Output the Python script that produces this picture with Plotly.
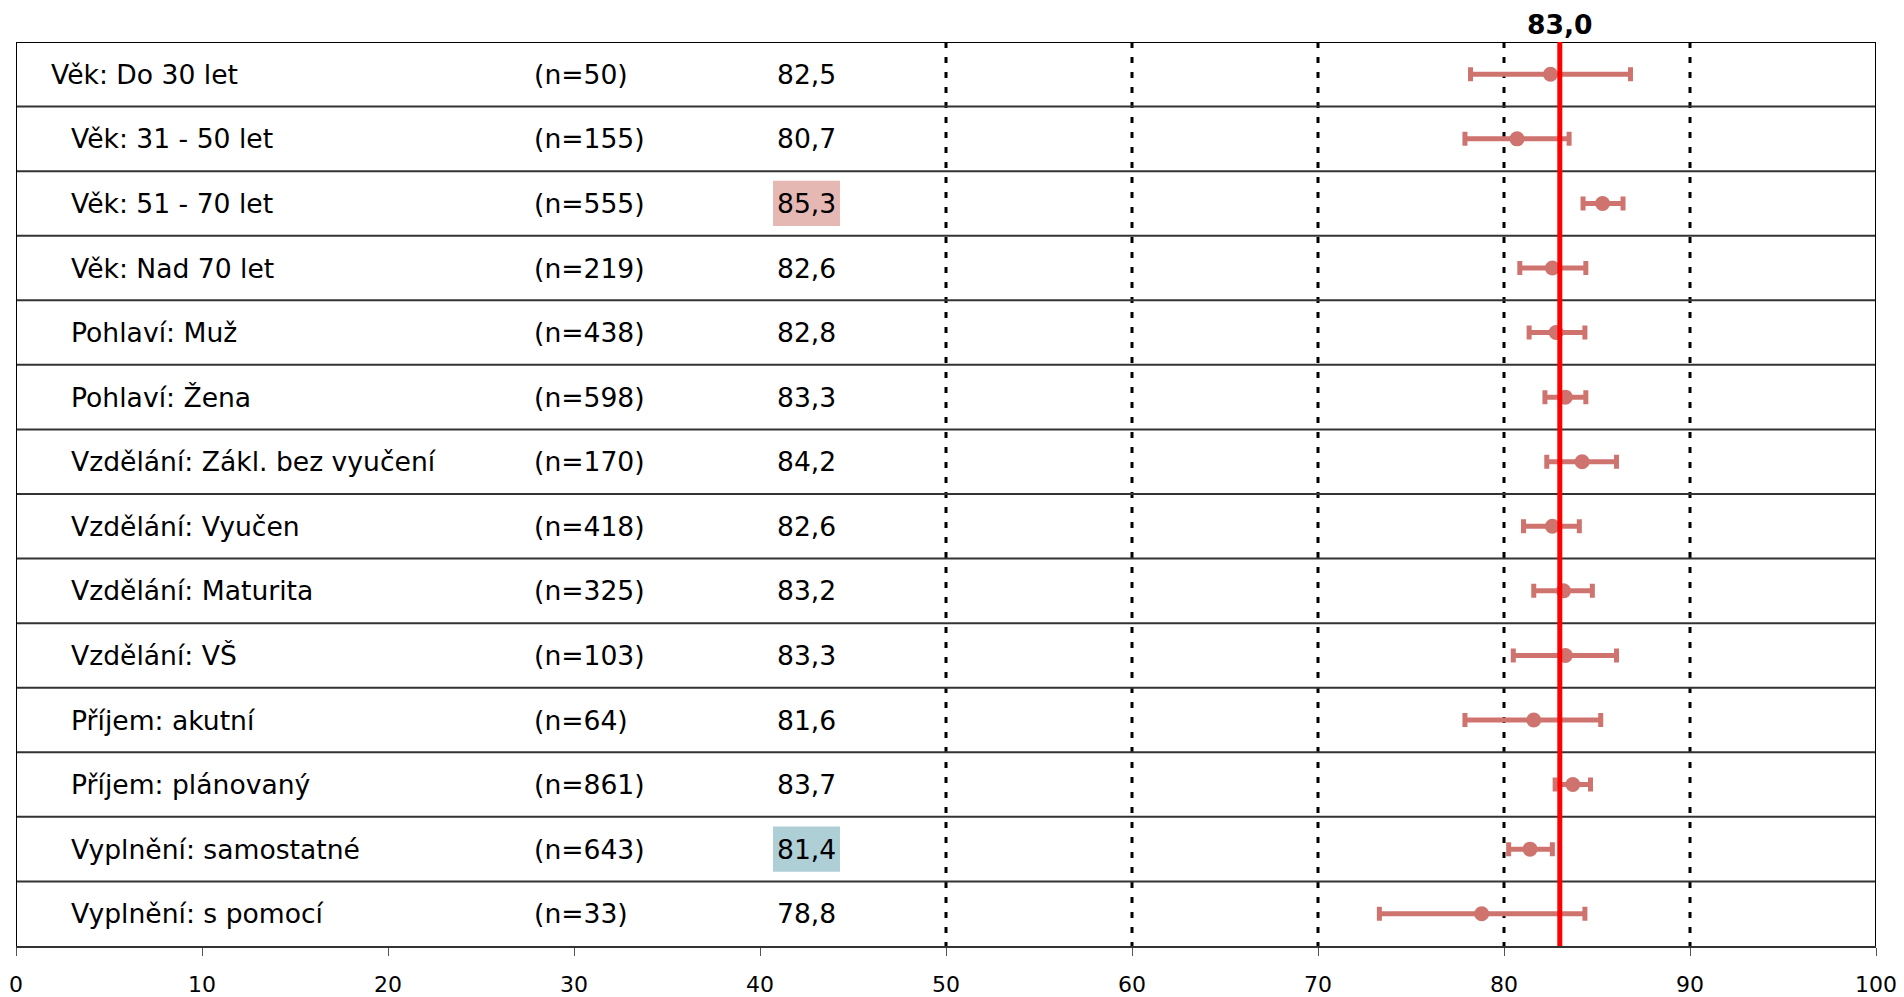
import plotly.graph_objects as go

# Subgroup rows, top to bottom
labels = [
    "Věk: Do 30 let",
    "Věk: 31 - 50 let",
    "Věk: 51 - 70 let",
    "Věk: Nad 70 let",
    "Pohlaví: Muž",
    "Pohlaví: Žena",
    "Vzdělání: Zákl. bez vyučení",
    "Vzdělání: Vyučen",
    "Vzdělání: Maturita",
    "Vzdělání: VŠ",
    "Příjem: akutní",
    "Příjem: plánovaný",
    "Vyplnění: samostatné",
    "Vyplnění: s pomocí",
]
counts = [50, 155, 555, 219, 438, 598, 170, 418, 325, 103, 64, 861, 643, 33]
means = [82.5, 80.7, 85.3, 82.6, 82.8, 83.3, 84.2, 82.6, 83.2, 83.3, 81.6, 83.7, 81.4, 78.8]
ci_low = [78.2, 77.9, 84.25, 80.85, 81.35, 82.2, 82.3, 81.05, 81.6, 80.5, 77.9, 82.75, 80.25, 73.3]
ci_high = [86.8, 83.5, 86.4, 84.4, 84.35, 84.4, 86.05, 84.05, 84.75, 86.05, 85.2, 84.65, 82.6, 84.35]
# significance flag: +1 above overall, -1 below overall, 0 none
flags = [0, 0, 1, 0, 0, 0, 0, 0, 0, 0, 0, 0, -1, 0]

overall = 83.0
x_ticks = [0, 10, 20, 30, 40, 50, 60, 70, 80, 90, 100]
grid_values = [50, 60, 70, 80, 90]

FONT = "DejaVu Sans"
TEXT_SIZE = 26.6
BAR_COLOR = "#cf736f"
HIGH_FILL = "#e6b8b4"
LOW_FILL = "#afcfd7"

def fmt(v):
    return f"{v:.1f}".replace(".", ",")

rows = list(range(len(labels)))

fig = go.Figure()

fig.add_trace(go.Scatter(
    x=means,
    y=rows,
    mode="markers",
    marker=dict(size=15, color=BAR_COLOR),
    error_x=dict(
        type="data",
        symmetric=False,
        array=[h - m for h, m in zip(ci_high, means)],
        arrayminus=[m - l for m, l in zip(means, ci_low)],
        color=BAR_COLOR,
        thickness=5,
        width=7,
    ),
    hoverinfo="skip",
    showlegend=False,
))

shapes = []
annotations = []

# dotted vertical grid
for g in grid_values:
    shapes.append(dict(type="line", xref="x", yref="y", x0=g, x1=g, y0=-0.5, y1=len(rows) - 0.5,
                       line=dict(color="black", width=3, dash="6px,9px"), layer="below"))

# row separators and table frame
for i in range(len(rows)):
    shapes.append(dict(type="line", xref="x", yref="y", x0=0, x1=100, y0=i - 0.5, y1=i - 0.5,
                       line=dict(color="#333333" if i else "black", width=2), layer="below"))
for xb in (0, 100):
    shapes.append(dict(type="line", xref="x", yref="y", x0=xb, x1=xb, y0=-0.5, y1=len(rows) - 0.5,
                       line=dict(color="black", width=2), layer="below"))

# highlighted value cells
for i, f in enumerate(flags):
    if f:
        shapes.append(dict(type="rect", xref="x", yref="y", x0=40.7, x1=44.3, y0=i - 0.35, y1=i + 0.35,
                           fillcolor=HIGH_FILL if f > 0 else LOW_FILL, line=dict(width=0), layer="below"))

# overall reference line
shapes.append(dict(type="line", xref="x", yref="y", x0=overall, x1=overall, y0=-0.5, y1=len(rows) - 0.5,
                   line=dict(color="#ff0000", width=5)))

for i in rows:
    annotations.append(dict(x=1.8 if i == 0 else 2.85, y=i, xref="x", yref="y", text=labels[i],
                            showarrow=False, xanchor="left", yanchor="middle",
                            font=dict(family=FONT, size=TEXT_SIZE, color="black")))
    annotations.append(dict(x=27.75, y=i, xref="x", yref="y", text=f"(n={counts[i]})",
                            showarrow=False, xanchor="left", yanchor="middle",
                            font=dict(family=FONT, size=TEXT_SIZE, color="black")))
    annotations.append(dict(x=42.5, y=i, xref="x", yref="y", text=fmt(means[i]),
                            showarrow=False, xanchor="center", yanchor="middle",
                            font=dict(family=FONT, size=TEXT_SIZE, color="black")))

annotations.append(dict(x=overall, y=1, xref="x", yref="paper", text=f"<b>{fmt(overall)}</b>",
                        showarrow=False, xanchor="center", yanchor="bottom", yshift=0,
                        font=dict(family=FONT, size=TEXT_SIZE, color="black")))

fig.update_layout(
    width=1904,
    height=997,
    margin=dict(l=16, r=28, t=42, b=51, autoexpand=False),
    paper_bgcolor="white",
    plot_bgcolor="white",
    shapes=shapes,
    annotations=annotations,
    hovermode=False,
    xaxis=dict(
        range=[0, 100],
        automargin=False,
        tickvals=x_ticks,
        ticktext=[str(t) for t in x_ticks],
        showgrid=False,
        zeroline=False,
        showline=True,
        linecolor="#333333",
        linewidth=2,
        ticks="outside",
        ticklen=8,
        tickwidth=1,
        tickcolor="#555555",
        ticklabelstandoff=10,
        tickfont=dict(family=FONT, size=22, color="black"),
        fixedrange=True,
    ),
    yaxis=dict(
        range=[len(rows) - 0.5, -0.5],
        automargin=False,
        showgrid=False,
        zeroline=False,
        showticklabels=False,
        showline=False,
        fixedrange=True,
    ),
)

fig.write_html("out.html")
